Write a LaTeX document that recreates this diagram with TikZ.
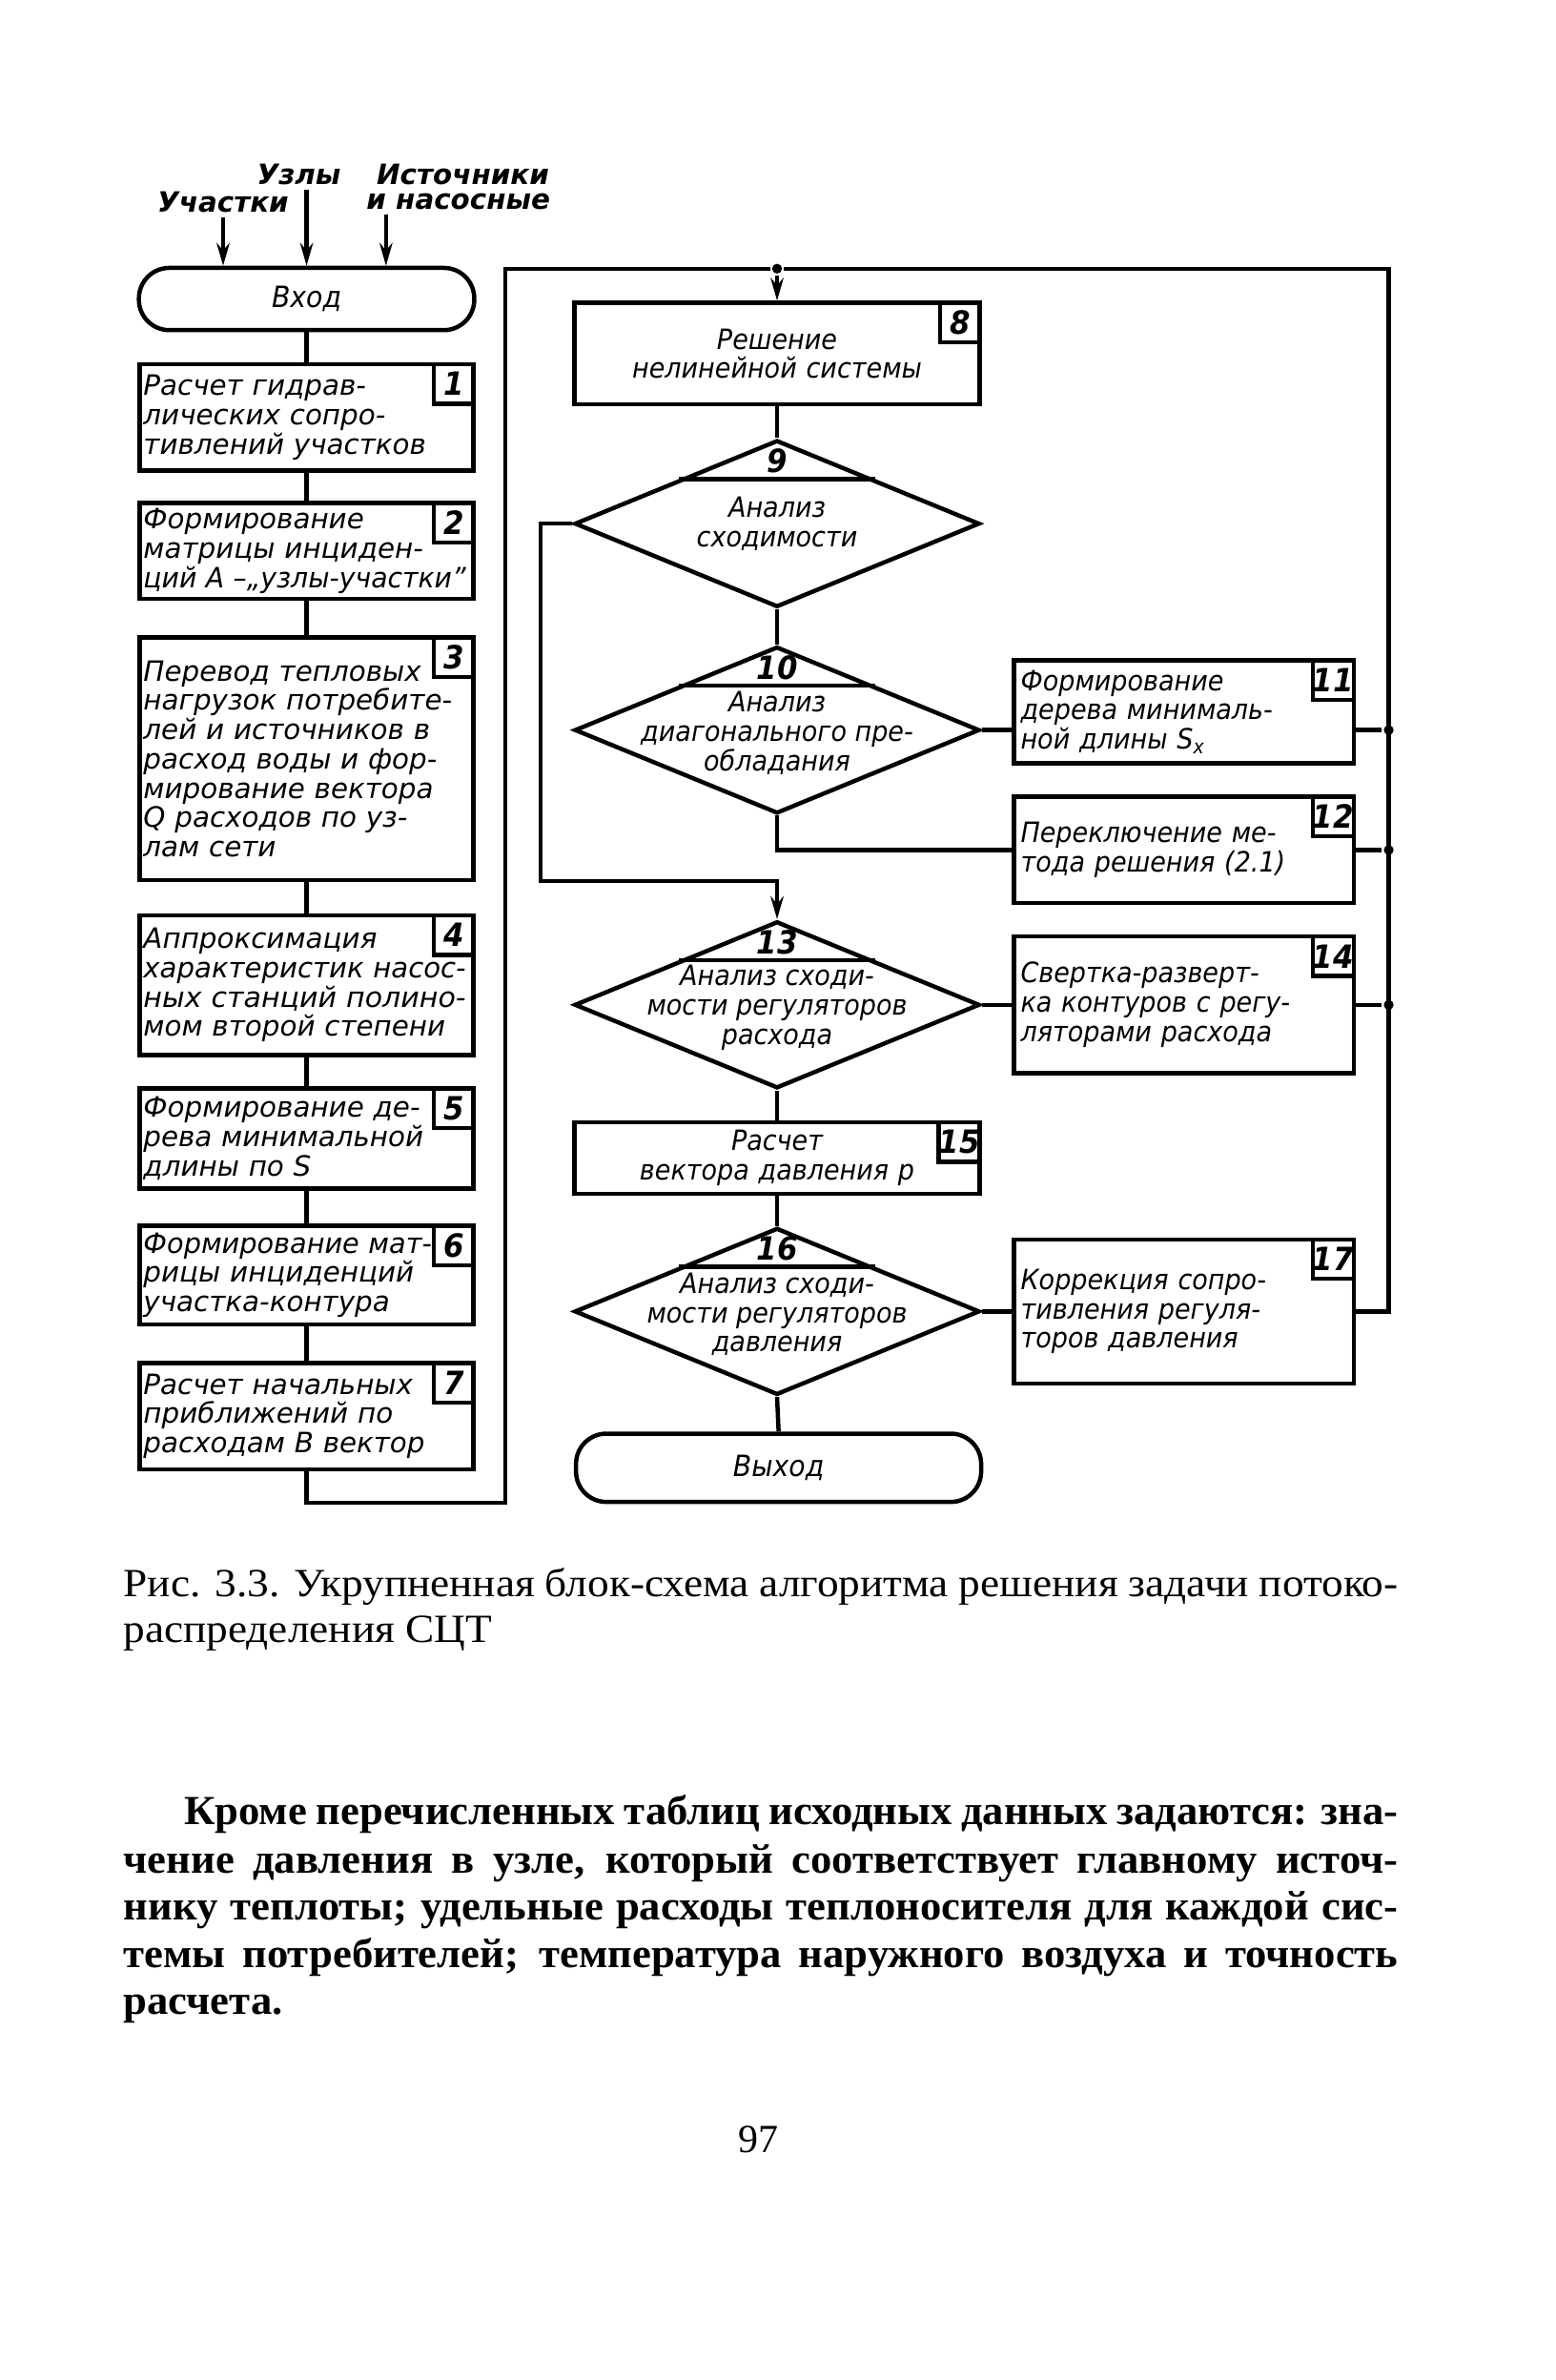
\documentclass[tikz,border=0pt]{standalone}
\usepackage{fontspec}
\usepackage{graphicx}
\setmainfont{Liberation Serif}
\newfontfamily\gostw[FakeStretch=1.0]{DejaVu Sans}
\newfontfamily\gostn[FakeStretch=0.92]{DejaVu Sans}
\newfontfamily\capfont[FakeStretch=1.08]{Liberation Serif}
\newfontfamily\bodyfont[FakeStretch=1.03]{Liberation Serif}
\usetikzlibrary{shapes.geometric,arrows.meta,calc}

\newcommand\fitline[2][4.25cm]{\resizebox{#1}{\height}{#2}}

\tikzset{
  lbox/.style={draw,rectangle,minimum width=4.4cm,text width=4.3cm,inner xsep=0.05cm,inner ysep=0pt,
    align=left,font=\gostw\itshape\fontsize{10.5}{11}\selectfont},
  rbox/.style={draw,rectangle,minimum width=4.48cm,text width=4.3cm,inner xsep=0.09cm,inner ysep=0pt,
    align=left,font=\gostn\itshape\fontsize{10.5}{11}\selectfont},
  cbox/.style={draw,rectangle,minimum width=5.34cm,text width=4.9cm,inner ysep=0pt,
    align=center,font=\gostn\itshape\fontsize{10.5}{11}\selectfont},
  term/.style={draw,rectangle,rounded corners=0.4cm,font=\gostn\itshape\fontsize{11}{12}\selectfont},
  dec/.style={draw,diamond,aspect=2.43,minimum width=5.34cm,minimum height=2.2cm,inner sep=0pt},
  dtext/.style={align=center,inner sep=0pt,font=\gostn\itshape\fontsize{10.5}{11}\selectfont},
  numbox/.style={draw,rectangle,anchor=north east,minimum size=0.52cm,inner sep=0pt,
    font=\gostn\itshape\bfseries\fontsize{12}{12}\selectfont},
  dnum/.style={inner sep=0pt,font=\gostn\itshape\bfseries\fontsize{12}{12}\selectfont},
  lab/.style={inner sep=1pt,font=\gostw\itshape\bfseries\fontsize{10.5}{11}\selectfont},
  dot/.style={circle,fill,inner sep=0pt,minimum size=0.13cm},
  arr/.style={-{Stealth[length=0.3cm,width=0.17cm]}},
  txt/.style={anchor=base west,inner sep=0pt}
}

\begin{document}
\begin{tikzpicture}[x=0.02cm,y=-0.02cm,line width=1.6pt]
  \useasboundingbox[fill=white] (0,0) rectangle (1025,1568);

  % inputs
  \node[lab] (uzly) at (197,115) {Узлы};
  \node[lab] (ist) at (305,115) {Источники};
  \node[lab] (uch) at (147,133) {Участки};
  \node[lab] (nas) at (302,133) {и насосные};
  \node[term,minimum width=4.42cm,minimum height=0.82cm] (vhod) at (202,197) {Вход};
  \coordinate (ia) at ($(nas.south west)+(16,0)$);
  \draw[arr] (uch.south) -- (uch.south |- vhod.north);
  \draw[arr] (uzly.south -| vhod.north) -- (vhod.north);
  \draw[arr] (ia) -- (ia |- vhod.north);

  % left column
  \node[lbox,minimum height=1.4cm] (b1) at (202,275) {Расчет гидрав-\\лических сопро-\\тивлений участков};
  \node[lbox,minimum height=1.26cm] (b2) at (202,363) {Формирование\\матрицы инциден-\\\fitline{ций А –„узлы-участки”}};
  \node[lbox,minimum height=3.2cm] (b3) at (202,500) {Перевод тепловых\\нагрузок потребите-\\лей и источников в\\расход воды и фор-\\мирование вектора\\Q расходов по уз-\\лам сети};
  \node[lbox,minimum height=1.84cm] (b4) at (202,649) {Аппроксимация\\\fitline{характеристик насос-}\\\fitline{ных станций полино-}\\мом второй степени};
  \node[lbox,minimum height=1.32cm] (b5) at (202,750) {Формирование де-\\рева минимальной\\длины по S};
  \node[lbox,minimum height=1.3cm] (b6) at (202,840) {\fitline[3.8cm]{Формирование мат-}\\рицы инциденций\\участка-контура};
  \node[lbox,minimum height=1.4cm] (b7) at (202,933) {Расчет начальных\\приближений по\\расходам В вектор};
  \foreach \k in {1,...,7}
    \node[numbox] (n\k) at (b\k.north east) {\k};

  \draw (vhod.south) -- (b1.north);
  \foreach \a/\b in {b1/b2,b2/b3,b3/b4,b4/b5,b5/b6,b6/b7}
    \draw (\a.south) -- (\b.north);

  % right column
  \node[cbox,minimum height=1.34cm] (b8) at (512,233) {Решение\\нелинейной системы};
  \node[numbox] (n8) at (b8.north east) {8};

  \node[dec] (d9) at (512,345) {};
  \node[dtext] (t9) at (d9.center) {Анализ\\сходимости};
  \node[dec] (d10) at (512,481) {};
  \node[dtext] (t10) at ($(d10.center)+(0,2)$) {Анализ\\диагонального пре-\\обладания};
  \node[dec] (d13) at (512,662) {};
  \node[dtext] (t13) at ($(d13.center)+(0,2)$) {Анализ сходи-\\мости регуляторов\\расхода};
  \node[dec] (d16) at (512,864) {};
  \node[dtext] (t16) at ($(d16.center)+(0,2)$) {Анализ сходи-\\мости регуляторов\\давления};
  \foreach \k in {9,10,13,16} {
    \draw ($(d\k.north)!0.48!(d\k.west)$) -- ($(d\k.north)!0.48!(d\k.east)$);
    \node[dnum] (m\k) at ($(d\k.north)+(0,15)$) {\k};
  }

  \node[rbox,minimum height=1.36cm] (b11) at (780,469) {Формирование\\дерева минималь-\\ной длины S\textsubscript{x}};
  \node[rbox,minimum height=1.4cm] (b12) at (780,560) {Переключение ме-\\тода решения (2.1)};
  \node[rbox,minimum height=1.8cm] (b14) at (780,662) {Свертка-разверт-\\ка контуров с регу-\\ляторами расхода};
  \node[cbox,minimum height=0.94cm] (b15) at (512,763) {Расчет\\вектора давления p};
  \node[rbox,minimum height=1.9cm] (b17) at (780,864) {Коррекция сопро-\\тивления регуля-\\торов давления};
  \foreach \k in {11,12,14,15,17}
    \node[numbox] (n\k) at (b\k.north east) {\k};

  \node[term,minimum width=5.34cm,minimum height=0.9cm] (vyhod) at (513,967) {Выход};

  % connectors
  \coordinate (rb1) at (333,990);
  \coordinate (rb2) at (333,177);
  \coordinate (rt) at (915,177);
  \node[dot] (j0) at (512,177) {};
  \draw (b7.south) |- (rb1) -- (rb2) -- (j0) -- (rt) |- (b17.east);
  \draw[arr] (j0) -- (b8.north);
  \draw (b8.south) -- (d9.north);
  \draw (d9.south) -- (d10.north);
  \draw[arr] (d9.west) -- ++(-21,0) |- ($(d13.north)+(0,-25)$) -- (d13.north);

  \node[dot] (j11) at (d10.east -| rt) {};
  \node[dot] (j12) at (b12.east -| rt) {};
  \node[dot] (j14) at (b14.east -| rt) {};
  \draw (d10.east) -- (d10.east -| b11.west);
  \draw (d10.east -| b11.east) -- (j11);
  \draw (d10.south) |- (b12.west);
  \draw (b12.east) -- (j12);
  \draw (d13.east) -- (b14.west);
  \draw (b14.east) -- (j14);
  \draw (d13.south) -- (b15.north);
  \draw (b15.south) -- (d16.north);
  \draw (d16.east) -- (b17.west);
  \draw (d16.south) -- (vyhod.north);

  % caption and text
  \node[txt,font=\capfont\fontsize{15}{18}\selectfont] (cap1) at (80,1052)
    {\makebox[16.8cm][s]{Рис. 3.3. Укрупненная блок-схема алгоритма решения задачи потоко-}};
  \node[txt,font=\capfont\fontsize{15}{18}\selectfont] (cap2) at (80,1082) {распределения СЦТ};

  \node[txt,font=\bodyfont\bfseries\fontsize{15.5}{18}\selectfont] (p1) at (120,1202)
    {\makebox[16cm][s]{Кроме перечисленных таблиц исходных данных задаются: зна-}};
  \node[txt,font=\bodyfont\bfseries\fontsize{15.5}{18}\selectfont] (p2) at (80,1234)
    {\makebox[16.8cm][s]{чение давления в узле, который соответствует главному источ-}};
  \node[txt,font=\bodyfont\bfseries\fontsize{15.5}{18}\selectfont] (p3) at (80,1265)
    {\makebox[16.8cm][s]{нику теплоты; удельные расходы теплоносителя для каждой сис-}};
  \node[txt,font=\bodyfont\bfseries\fontsize{15.5}{18}\selectfont] (p4) at (80,1296)
    {\makebox[16.8cm][s]{темы потребителей; температура наружного воздуха и точность}};
  \node[txt,font=\bodyfont\bfseries\fontsize{15.5}{18}\selectfont] (p5) at (80,1327) {расчета.};

  \node[anchor=base,inner sep=0pt,font=\fontsize{15}{18}\selectfont] (pg) at (500,1418) {97};
\end{tikzpicture}
\end{document}
